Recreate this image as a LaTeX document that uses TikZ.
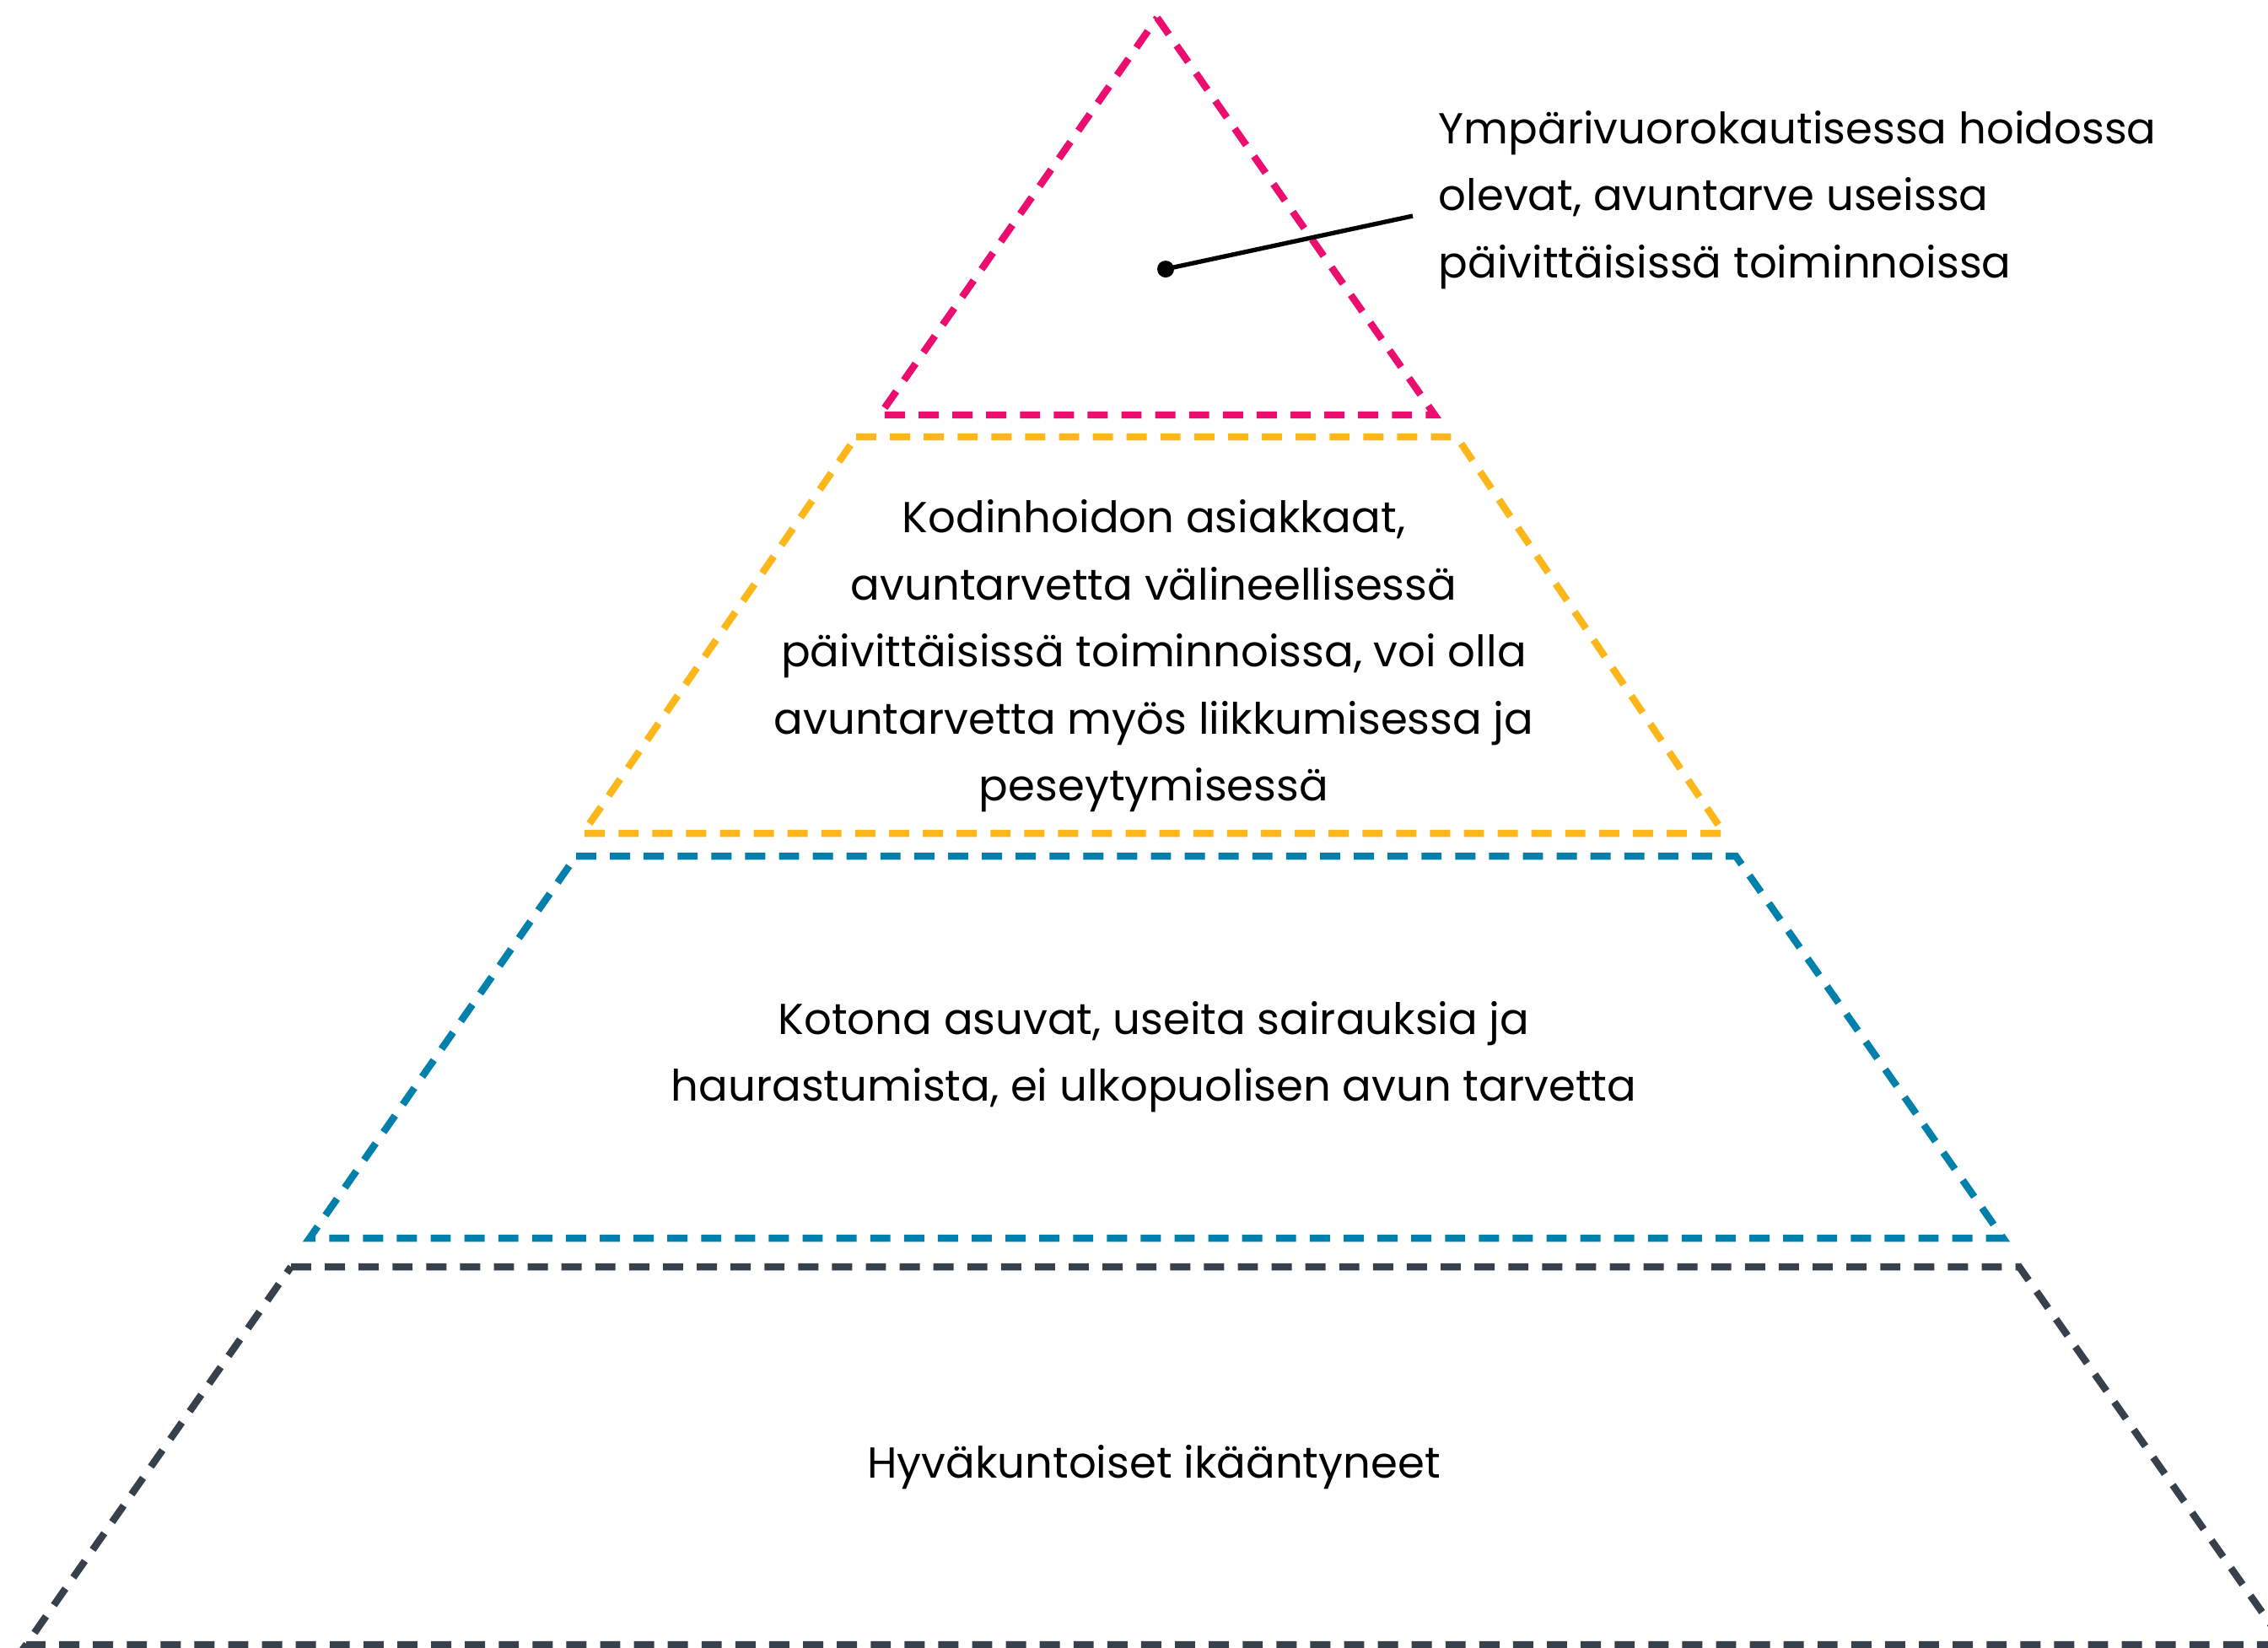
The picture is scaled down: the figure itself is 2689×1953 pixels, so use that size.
\documentclass[tikz,border=0pt]{standalone}
\usepackage{fontspec}
\setmainfont{Poppins}
\usepackage{xcolor}
\usepackage{tikz}
\usetikzlibrary{positioning}
\definecolor{tierpink}{HTML}{EC0E6E}
\definecolor{tieryellow}{HTML}{FDB71A}
\definecolor{tierblue}{HTML}{0080AB}
\definecolor{tierdark}{HTML}{37414C}

\begin{document}
\begin{tikzpicture}[
    x=0.01cm, y=-0.01cm,
    tier/.style={line width=2.4pt, dash pattern=on 6.8pt off 4.6pt},
    tiertext/.style={align=center, inner sep=0pt, font=\fontsize{14.6}{22.6}\selectfont},
    dot/.style={circle, fill=black, inner sep=0pt, minimum size=0.2cm}
  ]
  \useasboundingbox (0,0) rectangle (2689,1953);

  % tiers, top to bottom
  \draw[tier, draw=tierpink] (1372,21) -- (1701,492) -- (1043,492) -- cycle;
  \draw[tier, draw=tieryellow] (1015,518) -- (1727,518) -- (2044,988) -- (691,988) -- cycle;
  \draw[tier, draw=tierblue] (683,1015) -- (2058,1015) -- (2375,1468) -- (367,1468) -- cycle;
  \draw[tier, draw=tierdark] (345,1502) -- (2394,1502) -- (2709,1950) -- (31,1950) -- cycle;

  % texts
  \node[tiertext, align=left, anchor=west] (care) at (1705,237)
    {Ympärivuorokautisessa hoidossa\\olevat, avuntarve useissa\\päivittäisissä toiminnoissa};
  \node[tiertext] (homecare) at (1368,778)
    {Kodinhoidon asiakkaat,\\avuntarvetta välineellisessä\\päivittäisissä toiminnoissa, voi olla\\avuntarvetta myös liikkumisessa ja\\peseytymisessä};
  \node[tiertext] (athome) at (1368,1253)
    {Kotona asuvat, useita sairauksia ja\\haurastumista, ei ulkopuolisen avun tarvetta};
  \node[tiertext] (fit) at (1368,1740) {Hyväkuntoiset ikääntyneet};

  % callout
  \node[dot] (pin) at (1382,319) {};
  \coordinate (pinend) at (1675,256);
  \draw[line width=1.5pt] (pin.center) -- (pinend);
\end{tikzpicture}
\end{document}
